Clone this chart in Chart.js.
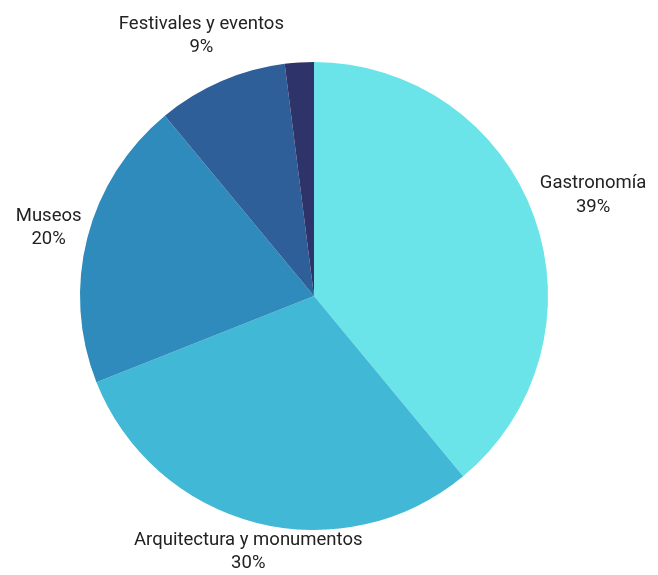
<!DOCTYPE html>
<html>
<head>
<meta charset="utf-8">
<script src="https://cdn.jsdelivr.net/npm/chart.js@4/dist/chart.umd.min.js"></script>
<style>
  html, body { margin: 0; padding: 0; background: #fff; }
  #wrap { width: 658px; height: 575px; }
</style>
</head>
<body>
<div id="wrap"><canvas id="myChart" width="658" height="575"></canvas></div>
<script>
  // categorías y porcentajes
  var categorias = ['Gastronomía', 'Arquitectura y monumentos', 'Museos', 'Festivales y eventos', 'Otros'];
  var porcentajes = [39, 30, 20, 9, 2];
  var etiquetas = ['Gastronomía', 'Arquitectura y monumentos', 'Museos', 'Festivales y eventos', ''];
  var colores = ['#6ae4e9', '#42b8d7', '#2e8bbb', '#2e5f99', '#2e3369'];

  // etiquetas fuera del pastel: nombre + porcentaje
  var etiquetasFuera = {
    id: 'etiquetasFuera',
    afterDatasetsDraw: function(chart) {
      var ctx = chart.ctx;
      var meta = chart.getDatasetMeta(0);
      ctx.save();
      ctx.font = '18.5px Roboto';
      ctx.fillStyle = '#222';
      ctx.textAlign = 'center';
      ctx.textBaseline = 'middle';
      var lh = 23.5;
      meta.data.forEach(function(arc, i) {
        if (!etiquetas[i]) return;
        var p = arc.getProps(['x', 'y', 'startAngle', 'endAngle', 'outerRadius'], true);
        var a = (p.startAngle + p.endAngle) / 2;
        var dx = Math.cos(a), dy = Math.sin(a);
        var lineas = [etiquetas[i], porcentajes[i] + '%'];
        var w = Math.max(ctx.measureText(lineas[0]).width, ctx.measureText(lineas[1]).width);
        var hw = w / 2, hh = lh;
        // distancia del centro del texto al borde de su caja en esa direccion
        var ext = Math.min(Math.abs(dx) > 1e-6 ? hw / Math.abs(dx) : 1e9,
                           Math.abs(dy) > 1e-6 ? hh / Math.abs(dy) : 1e9);
        var r = p.outerRadius + 6 + ext + (i === 3 ? 18 : 0);
        var cx = p.x + dx * r, cy = p.y + dy * r;
        ctx.fillText(lineas[0], cx, cy - lh / 2);
        ctx.fillText(lineas[1], cx, cy + lh / 2);
      });
      ctx.restore();
    }
  };

  var ctx = document.getElementById('myChart');
  var myChart = new Chart(ctx, {
    type: 'pie',
    data: {
      labels: categorias,
      datasets: [{
        data: porcentajes,
        backgroundColor: colores,
        borderWidth: 0
      }]
    },
    options: {
      responsive: false,
      animation: false,
      layout: { padding: { left: 80, right: 110, top: 62, bottom: 45 } },
      plugins: {
        legend: { display: false },
        tooltip: { enabled: false }
      }
    },
    plugins: [etiquetasFuera]
  });
</script>
</body>
</html>
